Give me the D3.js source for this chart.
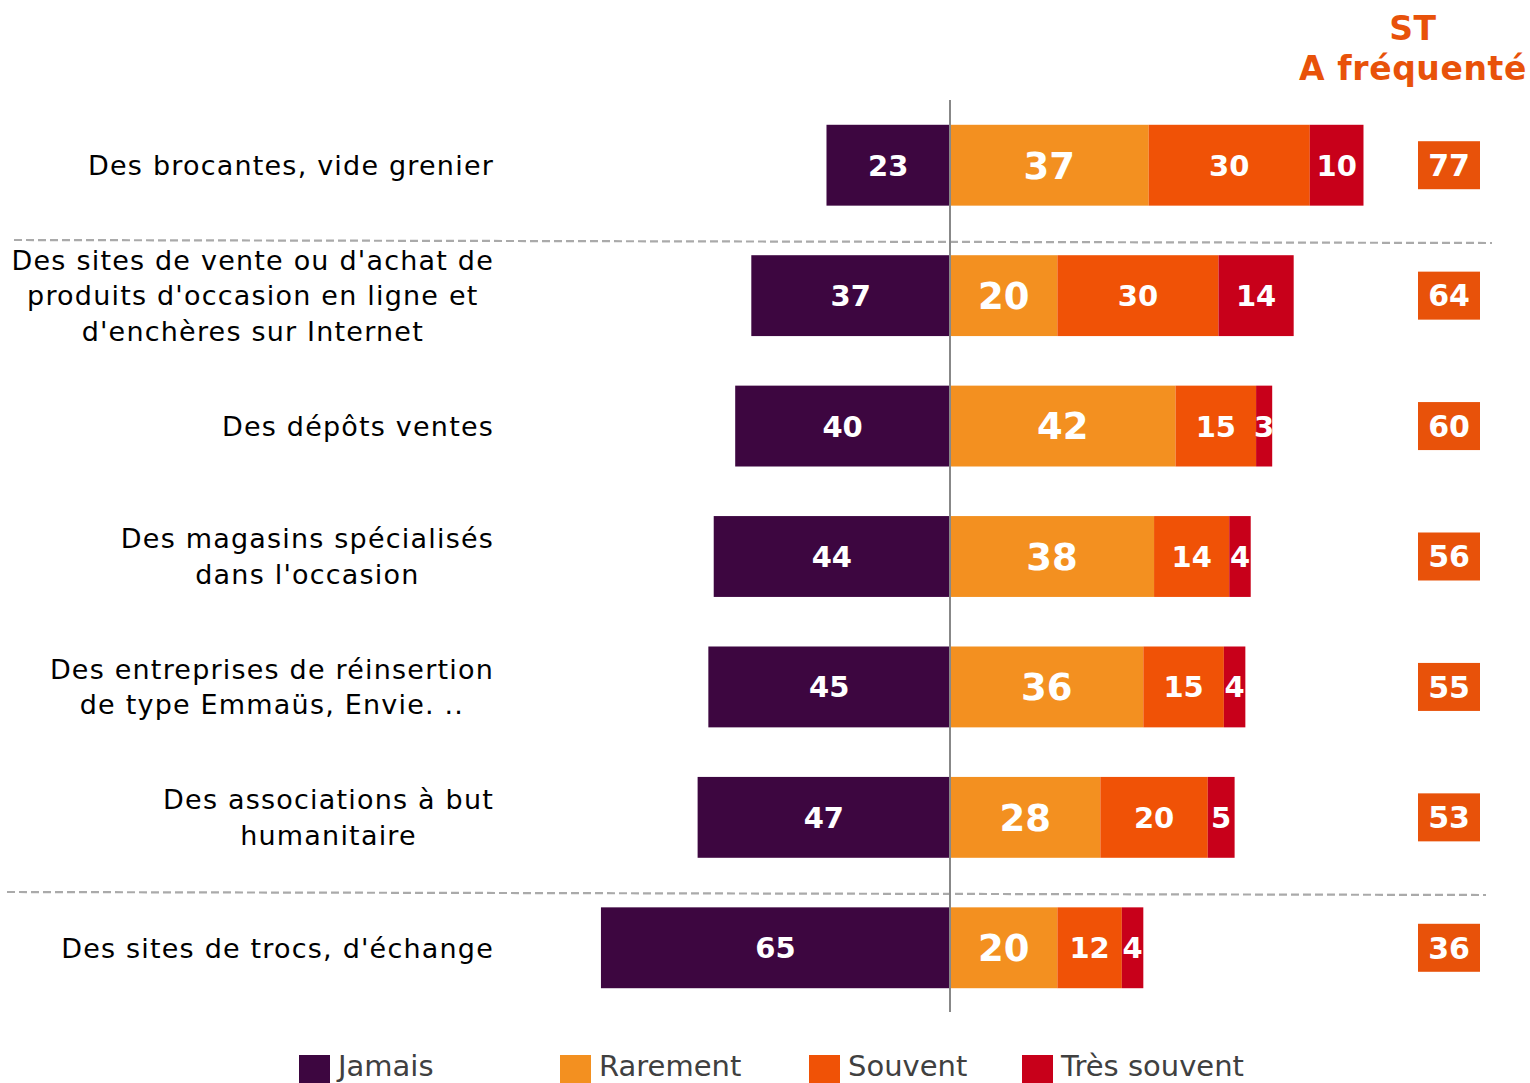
<!DOCTYPE html>
<html>
<head>
<meta charset="utf-8">
<script src="https://cdn.jsdelivr.net/npm/d3@7"></script>
<style>
html,body{margin:0;padding:0;background:#fff;}
svg{display:block;}
</style>
</head>
<body>
<svg id="chart" width="1530" height="1083"></svg>
<script>
const categories = [
  ["Des brocantes, vide grenier"],
  ["Des sites de vente ou d'achat de", "produits d'occasion en ligne et", "d'enchères sur Internet"],
  ["Des dépôts ventes"],
  ["Des magasins spécialisés", "dans l'occasion"],
  ["Des entreprises de réinsertion", "de type Emmaüs, Envie. .."],
  ["Des associations à but", "humanitaire"],
  ["Des sites de trocs, d'échange"]
];
const seriesNames = ["Jamais", "Rarement", "Souvent", "Très souvent"];
const jamais      = [23, 37, 40, 44, 45, 47, 65];
const rarement    = [37, 20, 42, 38, 36, 28, 20];
const souvent     = [30, 30, 15, 14, 15, 20, 12];
const tresSouvent = [10, 14, 3, 4, 4, 5, 4];
const stFrequente = [77, 64, 60, 56, 55, 53, 36];
const headerLines = ["ST", "A fréquenté"];

const colors = ["#3D0640", "#F39020", "#F05206", "#C8001A"];
const stColor = "#E8520A";
const font = "'DejaVu Sans', Verdana, sans-serif";

const svg = d3.select("#chart");
const cx = 950;
const unit = 5.37;
const x = d3.scaleLinear().domain([-70, 80]).range([cx - 70 * unit, cx + 80 * unit]);
const y = d3.scaleBand().domain(d3.range(categories.length)).range([100, 1013]).paddingInner(0.38).paddingOuter(0.19);

// separators
const sepY = [[14, 240, 1492, 243], [7, 892, 1486, 895]];
svg.selectAll("line.sep").data(sepY).enter().append("line")
  .attr("x1", d => d[0]).attr("y1", d => d[1]).attr("x2", d => d[2]).attr("y2", d => d[3])
  .attr("stroke", "#aaaaaa").attr("stroke-width", 2.2).attr("stroke-dasharray", "8,4");

const rows = categories.map((c, i) => ({
  i, label: c,
  vals: [jamais[i], rarement[i], souvent[i], tresSouvent[i]],
  st: stFrequente[i]
}));

const labelSizes = [29, 37, 29, 29];

rows.forEach(r => {
  const g = svg.append("g");
  const y0 = y(r.i), h = y.bandwidth(), yc = y0 + h / 2;
  const segs = [];
  segs.push({k: 0, x0: x(-r.vals[0]), x1: x(0), v: r.vals[0]});
  let acc = 0;
  for (let k = 1; k < 4; k++) {
    segs.push({k, x0: x(acc), x1: x(acc + r.vals[k]), v: r.vals[k]});
    acc += r.vals[k];
  }
  g.selectAll("rect").data(segs).enter().append("rect")
    .attr("x", d => d.x0).attr("y", y0).attr("width", d => d.x1 - d.x0).attr("height", h)
    .attr("fill", d => colors[d.k]);
  g.selectAll("text.v").data(segs).enter().append("text")
    .attr("x", d => (d.x0 + d.x1) / 2).attr("y", yc)
    .attr("dy", "0.36em").attr("text-anchor", "middle")
    .attr("font-family", font).attr("font-weight", "bold")
    .attr("font-size", d => labelSizes[d.k]).attr("fill", "#fff")
    .text(d => d.v);
  // ST box
  g.append("rect").attr("x", 1418).attr("y", yc - 24).attr("width", 62).attr("height", 48).attr("fill", stColor);
  g.append("text").attr("x", 1449).attr("y", yc).attr("dy", "0.36em").attr("text-anchor", "middle")
    .attr("font-family", font).attr("font-weight", "bold").attr("font-size", 30).attr("fill", "#fff").text(r.st);
  // category label (lines centred on each other, block right-aligned)
  const lh = 35.5;
  const n = r.label.length;
  const t = g.append("text").attr("text-anchor", "middle").attr("font-family", font)
    .attr("font-size", 27).attr("letter-spacing", 1.2).attr("fill", "#000");
  const spans = r.label.map((line, j) =>
    t.append("tspan").attr("y", yc + (j - (n - 1) / 2) * lh).attr("dy", "0.36em").text(line));
  const maxW = d3.max(spans, s => s.node().getComputedTextLength());
  spans.forEach(s => s.attr("x", 494 - maxW / 2));
});

// center line
svg.append("line").attr("x1", cx).attr("x2", cx).attr("y1", 100).attr("y2", 1012)
  .attr("stroke", "#888").attr("stroke-width", 2);

// header
svg.selectAll("text.hdr").data(headerLines).enter().append("text")
  .attr("x", 1413).attr("y", (d, i) => 40 + i * 40).attr("text-anchor", "middle")
  .attr("font-family", font).attr("font-weight", "bold").attr("font-size", 33)
  .attr("letter-spacing", 0.6).attr("fill", stColor)
  .text(d => d);

// legend
const legX = [299, 560, 809, 1022];
const lg = svg.selectAll("g.leg").data(seriesNames).enter().append("g");
lg.append("rect").attr("x", (d, i) => legX[i]).attr("y", 1055).attr("width", 31).attr("height", 28).attr("fill", (d, i) => colors[i]);
lg.append("text").attr("x", (d, i) => legX[i] + 39).attr("y", 1076)
  .attr("font-family", font).attr("font-size", 29).attr("fill", "#404040")
  .text(d => d);
</script>
</body>
</html>
